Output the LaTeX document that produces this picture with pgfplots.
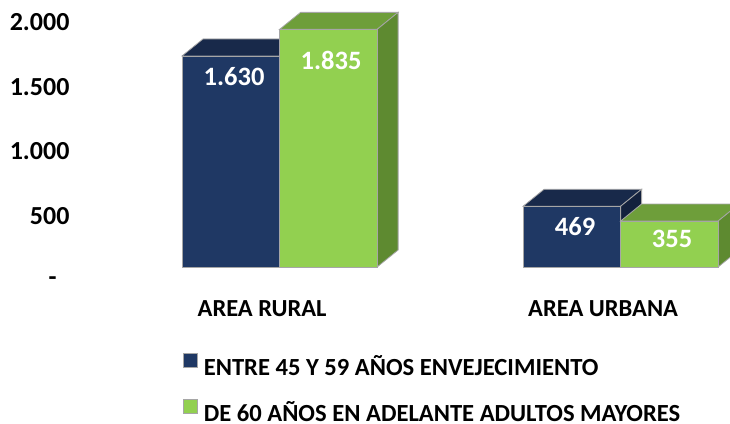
\documentclass[border=0pt]{standalone}
\usepackage{fontspec}
\setmainfont{Carlito}
\usepackage{pgfplots}
\usepackage{pgfplotstable}
\pgfplotsset{compat=1.18}

\definecolor{navy}{HTML}{1F3864}
\definecolor{navytop}{HTML}{18294A}
\definecolor{navyside}{HTML}{13213D}
\definecolor{lime}{HTML}{92D050}
\definecolor{limetop}{HTML}{6E9E3A}
\definecolor{limeside}{HTML}{5E8A30}
\definecolor{edge}{HTML}{A6A6A6}

% empty mark, the 3d faces are drawn by the scatter code
\pgfdeclareplotmark{nothing}{}

% top and side face of a bar: left edge, right edge (pt, from the point), colours
\newcommand{\boxfaces}[4]{%
  \pgfmathsetmacro{\h}{\val*0.1295}%
  \filldraw[fill=#3, draw=edge, line width=0.8pt] (#1pt,0pt) -- (#2pt,0pt) -- (#2pt+21pt,17pt) -- (#1pt+21pt,17pt) -- cycle;
  \filldraw[fill=#4, draw=edge, line width=0.8pt] (#2pt,0pt) -- (#2pt+21pt,17pt) -- (#2pt+21pt,17pt-\h pt) -- (#2pt,-\h pt) -- cycle;
}

\pgfplotstableread{
cat blue green
0 1630 1835
1 469 355
}\agedata

\begin{document}
\begin{tikzpicture}
\useasboundingbox (0,0) rectangle (730pt,423pt);
\begin{axis}[
  at={(75pt,156pt)}, anchor=south west,
  x=341pt, y=0.1295pt,
  xmin=-0.6, xmax=1.3, ymin=0, ymax=2000,
  enlargelimits=false, clip=false, clip mode=individual,
  axis line style={draw=none}, tick style={draw=none},
  xtick={0,1}, xticklabels={AREA RURAL,AREA URBANA},
  ytick={0,500,1000,1500,2000},
  yticklabels={{-\kern13pt},500,{1.000},{1.500},{2.000}},
  tick label style={text=black},
  yticklabel style={font=\bfseries\fontsize{26}{30}\selectfont, xshift=-2pt, yshift=-14pt},
  xticklabel style={font=\bfseries\fontsize{24.5}{29}\selectfont, anchor=base, yshift=-49pt, xshift=-17.5pt},
  legend style={at={(axis description cs:0.1667,-0.332)}, anchor=north west,
    draw=none, fill=none, inner sep=0pt, outer sep=0pt,
    row sep=22pt, column sep=6pt,
    font=\bfseries\fontsize{24.6}{28}\selectfont,
    nodes={inner sep=0pt, text height=17pt, text depth=2pt}},
  legend cell align=left,
  nodes near coords style={font=\bfseries\fontsize{26.5}{30}\selectfont, text=white, anchor=center},
  /pgf/number format/.cd, 1000 sep={.}, assume math mode=true,
]
% first series: 45 to 59
\addplot[forget plot, scatter, only marks, mark=nothing,
  visualization depends on={rawy \as \val},
  scatter/@pre marker code/.code={\boxfaces{-97.5}{0}{navytop}{navyside}},
  scatter/@post marker code/.code={}]
  table[x=cat, y=blue] {\agedata};
\addplot[ybar, bar width=97.5pt, bar shift=-48.75pt, fill=navy, draw=edge, line width=0.8pt,
  nodes near coords, every node near coord/.append style={xshift=-45.5pt, yshift=-20.5pt},
  legend image code/.code={\filldraw[fill=navy, draw=edge, line width=0.8pt] (0pt,0.5pt) rectangle (14pt,14.5pt);}]
  table[x=cat, y=blue] {\agedata};
\addlegendentry{ENTRE 45 Y 59 AÑOS ENVEJECIMIENTO}
% second series: 60 and over
\addplot[forget plot, scatter, only marks, mark=nothing,
  visualization depends on={rawy \as \val},
  scatter/@pre marker code/.code={\boxfaces{0}{97.5}{limetop}{limeside}},
  scatter/@post marker code/.code={}]
  table[x=cat, y=green] {\agedata};
\addplot[ybar, bar width=97.5pt, bar shift=48.75pt, fill=lime, draw=edge, line width=0.8pt,
  visualization depends on={rawy \as \gv},
  nodes near coords, every node near coord/.append style={xshift=51.5pt, yshift={\gv>1000 ? -31 : -18}},
  legend image code/.code={\filldraw[fill=lime, draw=edge, line width=0.8pt] (0pt,0.5pt) rectangle (14pt,14.5pt);}]
  table[x=cat, y=green] {\agedata};
\addlegendentry{DE 60 AÑOS EN ADELANTE ADULTOS MAYORES}
\end{axis}
\end{tikzpicture}
\end{document}
